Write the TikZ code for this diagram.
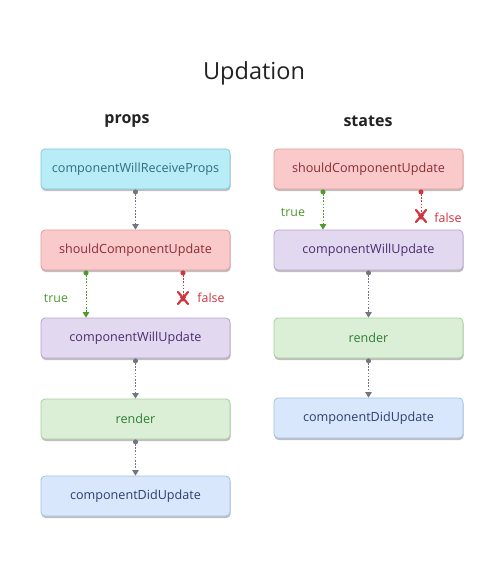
\documentclass[tikz,border=0pt]{standalone}
\usepackage{fontspec}
\setmainfont{Open Sans}
\usetikzlibrary{arrows.meta,shadows}
\definecolor{cyanfill}{HTML}{B8ECF7}\definecolor{cyanline}{HTML}{7CCBDD}\definecolor{cyantext}{HTML}{2F6E80}
\definecolor{pinkfill}{HTML}{FACACA}\definecolor{pinkline}{HTML}{E49A9A}\definecolor{pinktext}{HTML}{8A2C33}
\definecolor{lilafill}{HTML}{E2D8F0}\definecolor{lilaline}{HTML}{B5A5D0}\definecolor{lilatext}{HTML}{4A2D6E}
\definecolor{greenfill}{HTML}{DAEFD6}\definecolor{greenline}{HTML}{A6CFA0}\definecolor{greentext}{HTML}{2E7D3A}
\definecolor{bluefill}{HTML}{D8E7FB}\definecolor{blueline}{HTML}{A7C0E6}\definecolor{bluetext}{HTML}{2D3E6E}
\definecolor{flowgray}{HTML}{707780}\definecolor{truegreen}{HTML}{4E9A2E}\definecolor{falsered}{HTML}{D0343F}
\definecolor{inkdark}{HTML}{222222}
\tikzset{
  stage/.style={draw=#1line, fill=#1fill, text=#1text, rounded corners=4pt, line width=0.8pt,
    minimum width=189pt, minimum height=40pt, font=\fontsize{12.6}{14}\selectfont,
    drop shadow={shadow xshift=0.6pt, shadow yshift=-2pt, opacity=0.25, fill=black}},
  flow/.style={dash pattern=on 1.6pt off 1.6pt, line width=1pt, draw=#1, {Circle[length=5pt,fill=#1]}-{Triangle[length=5.5pt,width=6.5pt,fill=#1]}},
  stopmark/.style={draw=falsered, line width=2.2pt, line cap=round},
  branch/.style={font=\fontsize{12.4}{14}\selectfont, text=#1},
  heading/.style={font=\fontsize{16}{18}\selectfont\bfseries, text=inkdark}
}
\begin{document}
\begin{tikzpicture}[x=1pt,y=-1pt]
\useasboundingbox (0,0) rectangle (500,579);
\fill[white] (0,0) rectangle (500,579);

\node[font=\fontsize{23.5}{27}\selectfont, text=inkdark] (title) at (254,73) {Updation};
\node[heading] (props) at (127,121) {props};
\node[heading] (states) at (368,121) {states};

% props column
\node[stage=cyan]  (p1) at (135.5,169) {componentWillReceiveProps};
\node[stage=pink]  (p2) at (135.5,250) {shouldComponentUpdate};
\node[stage=lila]  (p3) at (135.5,338) {componentWillUpdate};
\node[stage=green] (p4) at (135.5,419) {render};
\node[stage=blue]  (p5) at (135.5,496) {componentDidUpdate};

\draw[flow=flowgray] (p1.south) -- (p2.north);
\draw[flow=truegreen] (p2.south -| 86,0) -- (p3.north -| 86,0);
\coordinate (pstop) at (183,298);
\draw[flow=falsered] (p2.south -| 183,0) -- ([yshift=-4pt]pstop);
\draw[stopmark] ([shift={(-5,-6)}]pstop) -- ([shift={(5,6)}]pstop);
\draw[stopmark] ([shift={(5,-6)}]pstop) -- ([shift={(-5,6)}]pstop);
\node[branch=truegreen] (ptrue) at (56,298) {true};
\node[branch=falsered] (pfalse) at (211,298) {false};
\draw[flow=flowgray] (p3.south) -- (p4.north);
\draw[flow=flowgray] (p4.south) -- (p5.north);

% states column
\node[stage=pink]  (s1) at (368.5,169) {shouldComponentUpdate};
\node[stage=lila]  (s2) at (368.5,250) {componentWillUpdate};
\node[stage=green] (s3) at (368.5,338) {render};
\node[stage=blue]  (s4) at (368.5,418) {componentDidUpdate};

\draw[flow=truegreen] (s1.south -| 323,0) -- (s2.north -| 323,0);
\coordinate (sstop) at (421,216);
\draw[flow=falsered] (s1.south -| 421,0) -- ([yshift=-4pt]sstop);
\draw[stopmark] ([shift={(-5,-6)}]sstop) -- ([shift={(5,6)}]sstop);
\draw[stopmark] ([shift={(5,-6)}]sstop) -- ([shift={(-5,6)}]sstop);
\node[branch=truegreen] (strue) at (293,212) {true};
\node[branch=falsered] (sfalse) at (448,218) {false};
\draw[flow=flowgray] (s2.south) -- (s3.north);
\draw[flow=flowgray] (s3.south) -- (s4.north);
\end{tikzpicture}
\end{document}
